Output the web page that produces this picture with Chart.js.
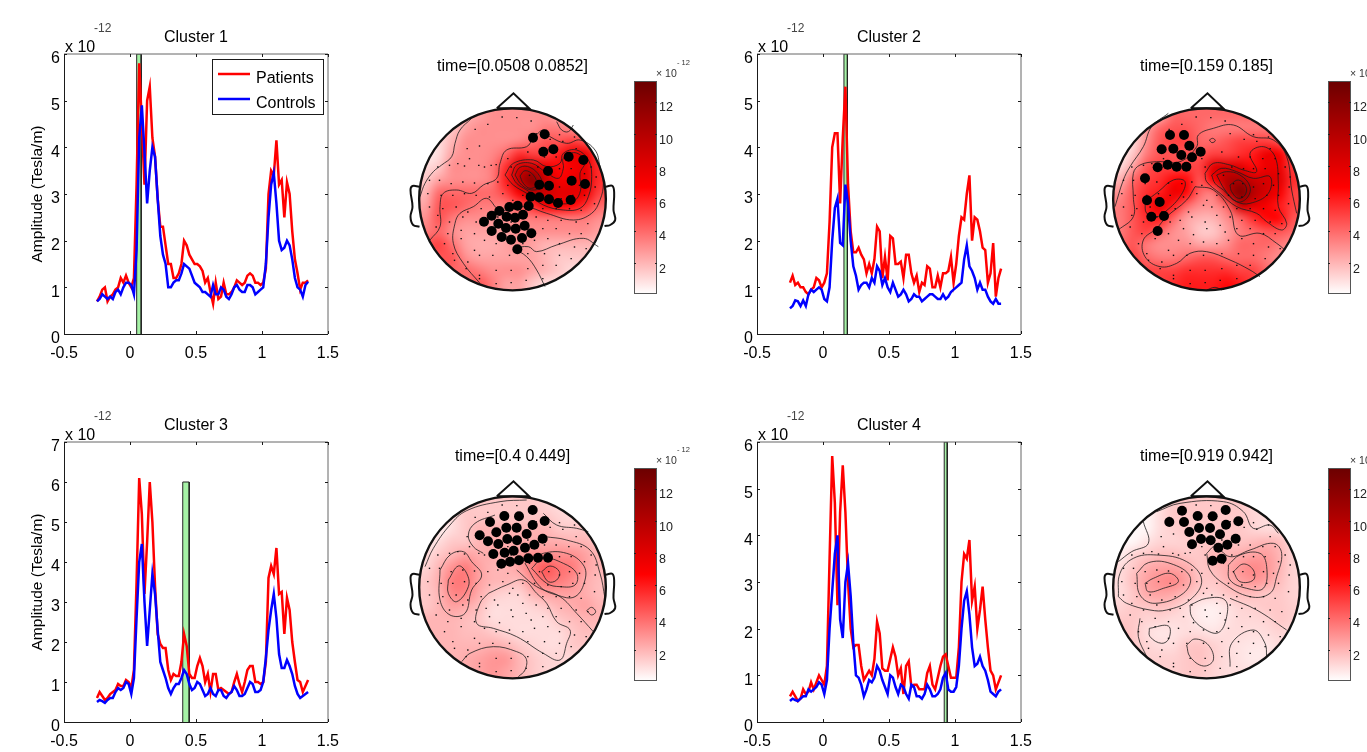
<!DOCTYPE html>
<html>
<head>
<meta charset="utf-8">
<title>Clusters</title>
<script src="https://cdn.jsdelivr.net/npm/chart.js@4/dist/chart.umd.min.js"></script>
<style>
html, body { margin: 0; padding: 0; background: #fff; width: 1367px; height: 752px; overflow: hidden; }
canvas { position: absolute; }
</style>
</head>
<body>
<script>
// time axis shared by all four clusters (seconds)
var timePts = [-0.25,-0.23,-0.21,-0.19,-0.17,-0.15,-0.13,-0.11,-0.09,-0.07,
  -0.05,-0.03,-0.01,0.01,0.03,0.05,0.07,0.09,0.11,0.13,
  0.15,0.17,0.19,0.21,0.23,0.25,0.27,0.29,0.31,0.33,
  0.35,0.37,0.39,0.41,0.43,0.45,0.47,0.49,0.51,0.53,
  0.55,0.57,0.59,0.61,0.63,0.65,0.67,0.69,0.71,0.73,
  0.75,0.77,0.79,0.81,0.83,0.85,0.87,0.89,0.91,0.93,
  0.95,0.97,0.99,1.01,1.03,1.05,1.07,1.09,1.11,1.13,
  1.15,1.17,1.19,1.21,1.23,1.25,1.27,1.29,1.31,1.33,1.35];

var patients1 = [.7,.8,.95,1,.7,.8,.85,.95,1,1.2,
  1.1,1.25,1.1,1,1.2,3.2,5.8,4.5,3.2,5,
  5.3,4.2,3.8,2.9,2.3,2.3,1.9,1.5,1.5,1.2,
  1.2,1.3,1.5,2,1.9,1.7,1.6,1.5,1.5,1.45,
  1.35,1.1,1.2,.9,.65,1.1,.75,.8,1.1,.85,
  .85,.9,1,1.15,1.1,1.05,1.1,1.25,1.3,1.25,
  1.1,1.1,1.05,1.1,1.4,3,3.5,3.4,4.15,3.2,
  3.3,2.5,3.25,3,2.2,1.6,1.3,.95,1.1,1.1,1.15];
var controls1 = [.7,.75,.85,.8,.75,.8,.75,.9,.95,.85,
  1,1.1,1.1,1.05,.85,1.8,4.2,4.9,3.9,2.8,
  3.5,4,3.8,2.9,2.1,1.7,1.5,1,1,1.1,
  1.15,1.15,1.3,1.5,1.45,1.4,1.25,1.1,1.05,1,
  .9,.9,.85,.8,1.05,.85,.85,1,.95,.8,
  .75,.85,1,1.05,.95,.9,.9,1.05,1.05,1,
  .85,.9,.95,1,1.5,2.5,3.2,3.45,2.8,2,
  1.8,1.85,2,1.9,1.6,1.2,1,.95,.8,1.05,1.12];

var patients2 = [1.1,1.25,1.05,1.1,1,1,.9,.85,.95,1,
  1.2,1.15,1,1.1,1.3,2.4,4,4.3,4.3,2.8,
  4.2,5.3,3.2,2.2,1.75,1.75,1.85,1.7,1.6,1.3,
  1.5,1.3,1.6,2.3,2.2,1.2,1.65,1.15,2.1,2.05,
  1.5,1.5,1.55,1.2,1.7,1.7,1.3,1.1,1.25,.9,
  1.1,1.05,1.45,1.4,1,1,1.25,1,1.3,1.3,
  1.35,1.65,1.1,1.5,2.1,2.5,2.45,3,3.4,2,
  2.5,2.45,2.2,1.85,1.8,1.1,1.3,1.95,.8,1.2,1.4];
var controls2 = [.55,.6,.72,.7,.6,.72,.6,.85,.95,.9,
  .95,1,.95,.75,.7,1,2,2.7,2.9,1.95,
  1.9,3.2,2.8,2,1.45,1.25,.95,1.05,1.1,1.1,
  1,1.2,1.1,1.45,1.35,1.05,1.2,1,.9,1.1,
  .95,.8,.85,.95,.85,.7,.75,.85,.8,.8,
  .7,.75,.8,.85,.85,.8,.75,.75,.85,.75,
  .8,.9,.95,1,1.05,1.1,1.6,1.9,1.45,1.35,
  1.2,.95,1.1,.95,.95,.8,.7,.65,.75,.65,.65];

var patients3 = [.6,.75,.65,.55,.6,.7,.75,.8,.95,.9,
  .9,1.05,1,.85,1.3,3.5,6.1,5.2,3.2,4.5,
  6,5,3.4,2.2,1.95,1.85,1.85,1.3,1.05,1.2,
  1.15,1.15,1.5,2.2,1.9,1.2,1.1,1.1,1.4,1.6,
  1.4,1,1.2,.75,1.2,1.2,.8,.85,.8,.75,
  .7,.75,1,1.2,.95,.75,1,1.3,1.4,1.4,
  1,1,.95,1,1.5,3.6,3.9,3.7,4.35,3.2,
  3.25,2.2,3.1,2.8,2,1.5,1.05,1,.75,.9,1.05];
var controls3 = [.5,.55,.52,.48,.55,.6,.6,.75,.85,.8,
  .85,1,.95,.7,1.1,2.6,4,4.45,3,1.9,
  2.8,3.7,3.2,2.3,1.5,1.3,1.1,.85,.7,.85,
  .95,.95,1.1,1.3,1.2,.95,.8,.85,1,.95,
  .8,.65,.7,.85,.7,.65,.8,.8,.65,.6,
  .7,.75,.9,.8,.65,.65,.7,.85,1,.95,
  .75,.75,.8,1,1.6,2.3,2.8,3.2,2.6,1.7,
  1.35,1.35,1.55,1.4,1.2,.9,.7,.6,.65,.7,.75];

var patients4 = [.55,.65,.55,.45,.5,.7,.6,.65,.85,.7,
  .85,1,.9,.8,1.2,3.5,5.7,4.7,2.5,4.5,
  5.5,4.5,3,2,1.6,1.65,1.65,1.2,.9,1,
  1.1,1,1.35,2.15,1.9,1.15,1.1,1.1,1.35,1.6,
  1.4,1,1.15,.6,1.2,1.3,.75,.8,.8,.7,
  .7,.7,1.05,1.2,.8,.7,.95,1.2,1.4,1.45,
  1.2,.95,.95,.95,1.6,3,3.6,3.5,3.9,2.6,
  2.9,2,2.4,2.9,2.2,1.6,1.1,1,.7,.85,1];
var controls4 = [.45,.5,.47,.45,.5,.55,.55,.7,.65,.7,
  .75,.85,.8,.6,.9,2,2.8,3.6,4,2.2,
  1.8,3,3.4,2.7,1.7,1,.95,.8,.55,.7,
  .9,.85,.95,1.2,1.1,.9,.75,.6,1,.95,
  .75,.6,.8,.75,.6,.5,.8,.75,.55,.55,
  .5,.6,.8,.7,.55,.55,.6,.7,.95,1.05,
  .7,.65,.65,.75,1.2,2,2.6,2.8,2.3,1.6,
  1.2,1.25,1.4,1.2,1.1,.9,.65,.6,.55,.65,.7];

var xTicks = [-0.5, 0, 0.5, 1, 1.5];
var yTicks6 = [0, 1, 2, 3, 4, 5, 6];
var yTicks7 = [0, 1, 2, 3, 4, 5, 6, 7];
var cbarTicks = [2, 4, 6, 8, 10, 12];
var cbarRange = [0.08, 13.28];
// colour map of the scalp maps: value, r, g, b
var cmapStops = [[0.08,255,255,255],[6.7,255,0,0],[13.28,107,0,0]];

// scalp field, 14 x 14 cells, row by row from the nose down
var heat1 = [1,1,1,2,2.5,3,3,3,3,3,2.5,2,2,2,
  1,1,1.5,2.5,3,3,3,3,3,3.5,3.5,3,2.5,2.5,
  .5,1,2,3,3,3,3,3.2,3.8,4.5,4.5,5,4.5,4,
  .5,1,2.5,3,3,3.2,4,5.5,5,5,6,7.5,7.5,5,
  1,1.5,3,3,3,3.5,5.5,8.5,9,7.5,6.5,7,7.5,5.5,
  1.5,2.5,3,3,3,3.5,6,9.5,12,9,7,7.5,8,5.5,
  2,4,4,4,4,4,5,7,9.5,9,8,8,7.5,5,
  2.5,4.5,4.5,4,3.5,3.5,3.5,4.5,5.5,7,7,6.5,5.5,4,
  3,4.5,3.5,3,3,2.8,3,3.2,3.5,3.5,3.5,3.5,3.5,3,
  3.5,4,3,2.5,2.5,2.5,2.5,3,3,3,3,3,3,2.5,
  4.5,5,3.8,2.5,2.2,2.2,2.5,3,2.5,2,2,2,2,2,
  5,4.5,4.5,3,2.5,2.5,2.5,2.5,2.5,2,1.5,1.5,1.5,1.5,
  5,5,4,4,3.5,3,3,3,2.5,2,1.5,1,1,1,
  5,5,4,3.5,4.5,3.5,2.5,2.5,1.5,1,1,1,1,1];
var heat2 = [1,1,1,2,4,4,4,4,4,4,4,3,2,2,
  1,1,2.5,4,4.5,4.5,4,3.5,3.5,3.5,3.5,3.5,3,2,
  .5,1,3,4.5,5,5,4,4,4.5,5,5,5,4.5,3,
  .5,1.5,3.5,4.5,4.5,4.5,4.5,5,5,5.5,6,7.5,7,4.5,
  1,2.5,4.5,5,5,5,5,8,8.5,8,6.5,7.5,7.5,5,
  2,4,5,5.5,6.5,6.5,4.5,7,10,10.5,9,8.5,8,5.5,
  3,4.5,5.5,6,7.5,6.5,4,3.5,9,12.5,10,8.5,7,5,
  3.5,4.5,6,7.5,6,4,3,3,4,9,8,7,6,5,
  3.5,4.5,5.5,6,4,2.5,2,2,3,4,5.5,6.5,6.5,4.5,
  3.5,4.5,5,4,3,2.5,1.5,1.5,2.5,3.5,4,4.5,4.5,4,
  4,4.5,3.5,3,3,3,2.5,2.5,3,4,4,4,3.5,3,
  4,5,4,3.5,3.5,4,4.5,4.5,4,4,4,3.5,3,3,
  4,5,5,5,5,5.5,5.5,5.5,5.5,5,5,4,3,3,
  4,5,5,5,5.5,6,6,6,6.5,6,5,4,3,3];
var heat3 = [.5,.5,1,1.5,1.5,1.5,1.5,1.5,1.5,1.2,1,1,1,1,
  .5,.5,1,1.5,1.5,1.5,1.5,1.5,1.5,1.5,1.2,1,1,1,
  .5,.5,1,1.5,2,2,2,2,2,2,1.5,1.5,1.5,1,
  .5,1,1.5,1.5,2,2.2,2.2,2.2,2.2,2.2,2.2,2,2,1.5,
  1,1.5,2,2.5,2.2,2.2,2.2,2.5,3,3,3,3,2.5,2,
  1.2,2,3,3.5,2.5,2,2,2.5,3.5,4.5,3.8,3.5,2.5,2,
  1.5,2.2,3.5,3.5,2.5,2,2,1.8,3,3.8,3.5,3,2.2,1.8,
  1.5,2,3.2,3.2,2.2,1.5,1.2,1.2,2,2.5,2.5,2.5,2.2,1.8,
  1.5,2,2.5,2.2,1.8,1,1,1,1.2,1.5,2,2.2,2.5,2,
  2,2,2,1.8,1.5,1,1,1,1,1,1.5,1.8,2,2,
  2,2,2,1.8,1.8,1.5,1.2,1,1,1,1,1.5,1.8,1.5,
  2,2,2,2,2,2.2,2,1.5,1.2,1,1,1.5,1.5,1,
  2,2,2,2.2,2.5,2.8,2.8,2,1.5,1.2,1.2,1,1,1,
  2,2,2,2.2,2.5,2.8,2.5,2,1.5,1.2,1,1,1,1];
var heat4 = [.5,.5,.5,.8,1.5,1.5,1.5,1.5,1.5,1.5,1,1,1,1,
  .5,.5,.3,1,1.5,1.5,1.5,1.5,1.5,1.5,1.2,1,1,1,
  .3,.3,.3,1,1.3,1.5,1.5,1.5,1.5,1.5,1.2,1,1,.8,
  .3,.3,.8,1.2,1.2,1.3,1.5,1.5,1.6,1.6,1.8,2,1.8,1,
  .5,1.2,1.5,1.8,1.8,1.5,1.5,2,2,2.2,2.5,2.6,2,1.2,
  1,1.5,2.2,2.5,2.5,2.2,1.5,1.8,2.2,2.8,3.2,2.8,2,1.2,
  1,1.8,2.5,3,3.2,2.5,1.6,1.5,2,2.5,2.8,2.5,1.8,1.2,
  1,1.5,2.3,2.5,2.3,1.8,1.3,1.2,1.5,1.8,1.8,1.5,1.5,1.2,
  1.2,1.5,1.5,1.7,1.5,1,.6,.5,.8,1.2,1.3,1.5,1.5,1.3,
  1.5,1.5,1.2,1.2,1,1,.6,.5,.8,1.1,1.1,1.2,1.5,1.3,
  1.8,1.5,1,.7,.8,1,1,.8,1,1,.9,1,1.2,1,
  2,1.5,1.2,1,1,1.5,1.6,1.3,1,.8,.7,.7,1,1,
  2,1.5,1.3,1.3,1.3,1.5,1.7,1.3,1,.8,.6,.7,1,1,
  2,1.5,1.3,1.3,1.3,1.5,1.5,1.2,1,.9,.9,1,1,1];

// contour lines, in sensor layout units (3 units = 1 px)
var openLines1 = [
  [[215,205],[180,240],[165,280],[155,320],[125,345],[100,365],[75,400],[60,440]],
  [[90,570],[120,530],[120,470],[130,430],[170,420],[215,430],[250,405],[290,385],[300,340],[320,300],[380,290],[400,265],[430,240],[450,260],[500,280],[540,270],[585,300],[600,350],[610,400],[600,450],[575,490],[520,510],[440,490],[375,470],[300,480],[260,445],[220,470],[180,490],[165,520],[160,580],[190,640],[240,700]],
  [[340,595],[380,620],[410,660],[435,710]],
  [[340,595],[385,590],[410,605],[470,585],[550,565],[595,590]],
  [[470,215],[485,240],[505,245],[520,225]]];
var closedLines1 = [
  [[315,375],[340,340],[400,330],[440,350],[480,340],[490,310],[530,300],[565,330],[575,380],[565,440],[540,475],[490,480],[430,465],[380,430],[340,405]],
  [[335,375],[350,345],[395,340],[435,365],[475,385],[490,355],[490,325],[525,308],[555,335],[540,370],[542,420],[520,455],[470,460],[420,445],[380,420],[350,400]],
  [[345,375],[360,352],[390,352],[420,380],[425,410],[395,420],[365,405]],
  [[360,378],[375,362],[400,375],[410,405],[390,415],[370,400]]];
var openLines2 = [
  [[235,190],[185,230],[160,290],[120,350],[100,390],[75,470]],
  [[85,540],[130,500],[130,440],[130,370],[150,345],[200,335],[270,335],[320,290],[325,255],[370,235],[430,225],[490,260],[550,270],[590,320],[605,420],[620,490]],
  [[315,410],[290,450],[230,500],[200,535],[160,570],[165,620],[210,650],[260,640],[300,610],[350,605],[420,630],[480,660],[510,680]],
  [[315,410],[370,420],[420,480],[445,555],[510,550],[560,580],[585,600]],
  [[350,720],[375,712],[395,720]]];
var closedLines2 = [
  [[345,370],[370,340],[420,345],[460,360],[500,365],[480,310],[520,290],[555,320],[565,400],[565,470],[590,520],[575,540],[530,515],[500,490],[440,470],[390,430],[350,395]],
  [[365,375],[395,355],[440,365],[490,385],[540,380],[535,430],[480,460],[440,455],[400,420],[375,400]],
  [[380,375],[410,365],[450,375],[480,410],[470,445],[440,455],[405,420]],
  [[420,405],[445,390],[468,410],[465,435],[445,445],[425,425]],
  [[165,455],[205,425],[250,390],[285,395],[270,440],[220,490],[200,500],[170,490]],
  [[358,270],[368,265],[376,272],[366,278]]];
var openLines3 = [
  [[380,180],[300,185],[200,212],[150,255],[100,325],[75,380]],
  [[285,225],[225,250],[205,285],[220,320],[250,340]],
  [[430,220],[470,255],[530,265],[565,275]],
  [[435,290],[500,300],[570,330],[600,400],[615,475]],
  [[185,665],[210,640],[280,620],[350,635],[378,655],[375,690],[355,710]],
  [[350,390],[410,440],[480,470],[530,520],[580,575]]];
var closedLines3 = [
  [[120,390],[150,345],[190,335],[215,365],[245,405],[215,450],[195,520],[150,525],[120,480]],
  [[145,420],[175,378],[200,400],[205,440],[170,485],[145,460]],
  [[375,370],[430,340],[500,340],[550,375],[555,420],[525,470],[470,465],[420,440]],
  [[395,385],[430,355],[490,370],[530,400],[525,435],[480,440],[440,430]],
  [[425,395],[450,378],[478,395],[470,420],[445,425]],
  [[265,460],[320,435],[370,420],[410,460],[440,490],[470,545],[510,570],[500,610],[480,660],[430,640],[350,590],[280,565],[230,550],[240,490]],
  [[560,512],[575,502],[587,515],[575,525]]];
var openLines4 = [
  [[160,245],[175,310],[125,335],[85,365]],
  [[200,215],[270,190],[400,185],[460,215],[490,265],[540,255],[565,280]],
  [[420,475],[500,510],[590,570]],
  [[150,535],[145,590],[170,650]],
  [[420,680],[425,610],[490,570],[525,610],[530,650]]];
var closedLines4 = [
  [[85,470],[90,400],[130,355],[200,345],[290,365],[335,420],[300,480],[230,510],[180,510],[110,490]],
  [[140,400],[175,368],[240,370],[300,410],[280,460],[195,490],[150,465]],
  [[165,430],[190,415],[240,400],[265,425],[220,445],[175,455]],
  [[350,340],[375,320],[420,350],[480,330],[550,310],[575,340],[560,410],[540,460],[480,470],[400,430],[360,390]],
  [[415,375],[450,345],[510,340],[530,380],[520,445],[470,445],[420,420]],
  [[430,395],[460,372],[490,390],[490,420],[450,425]],
  [[300,495],[350,475],[405,480],[410,530],[385,578],[340,565],[305,530]],
  [[178,565],[235,558],[237,595],[215,610],[180,590]],
  [[290,615],[315,597],[355,615],[370,660],[340,678],[300,650]]];

// sensors of each significant cluster
var clusterDots1 = [[399,263],[434,253],[430,305],[460,298],[506,320],[550,330],[444,363],[515,392],[555,402],[418,404],[447,407],[392,440],[418,442],[447,448],[474,459],[512,450],[386,468],[353,467],[328,471],[298,483],[275,497],[252,515],[320,500],[345,503],[369,494],[295,521],[318,534],[347,536],[374,527],[275,543],[305,561],[333,569],[366,564],[394,550],[352,598]];
var clusterDots2 = [[240,255],[282,255],[298,287],[215,298],[250,296],[274,315],[306,322],[332,305],[203,352],[233,344],[260,350],[289,350],[165,385],[171,451],[209,456],[184,500],[222,498],[203,543]];
var clusterDots3 = [[398,210],[313,228],[357,229],[270,246],[434,243],[398,255],[319,263],[350,263],[289,277],[239,286],[264,304],[380,282],[322,297],[351,301],[295,312],[428,296],[403,314],[375,323],[341,332],[314,338],[280,342],[444,353],[414,353],[385,355],[357,361],[330,365],[304,371]];
var clusterDots4 = [[276,212],[407,210],[323,228],[368,229],[238,246],[282,246],[445,244],[408,254],[327,264],[360,264],[298,276],[390,283],[437,296],[333,297],[362,301],[412,314],[306,313],[385,323],[395,356],[368,362]];

// whole sensor array, read on map 4 (head centre 349,442)
var sensorDots = [[318,195],[362,197],[405,207],[237,232],[275,217],[490,248],[535,255],[213,290],[250,282],[420,245],[462,262],[500,268],[540,290],
  [185,335],[220,320],[248,340],[285,340],[335,320],[395,300],[445,315],[480,315],[518,320],[555,320],[585,345],
  [125,345],[160,340],[205,342],[265,345],[300,338],[345,345],[425,345],[460,350],[490,350],[525,350],[565,365],[600,375],
  [100,385],[130,385],[165,395],[200,390],[235,393],[275,395],[305,390],[335,400],[400,370],[430,395],[458,395],[490,405],[520,395],[550,400],[597,405],
  [95,425],[135,430],[170,430],[205,425],[240,430],[280,435],[320,425],[350,445],[380,430],[415,430],[455,435],[495,440],[530,430],[565,430],[595,455],
  [100,465],[140,470],[180,465],[215,480],[255,470],[295,480],[340,460],[365,465],[400,465],[440,470],[480,470],[520,470],[555,475],
  [125,490],[160,510],[200,495],[240,510],[270,505],[305,495],[345,510],[380,490],[420,495],[455,505],[495,505],[540,510],[575,515],
  [120,525],[155,545],[195,535],[235,545],[280,530],[310,548],[350,530],[390,520],[405,540],[440,530],[480,530],[520,545],[555,545],
  [145,575],[170,605],[195,560],[235,595],[265,565],[300,575],[340,570],[380,575],[415,565],[455,560],[490,575],[535,585],[570,590],
  [175,625],[215,630],[250,610],[290,610],[340,610],[395,605],[445,605],[490,610],[525,620],
  [210,650],[250,670],[300,655],[345,655],[395,650],[440,640],[480,640],
  [300,695],[345,692],[390,685],[440,680],[250,680]];

// head outline, relative to the head centre
var noseLine = [[-47,-273],[3,-318],[50,-273],[-47,-273]];
var earLeft = [[-280,-38],[-300,-40],[-306,-28],[-300,22],[-306,52],[-298,77],[-279,82]];
var earRight = [[280,-38],[300,-40],[305,-18],[303,32],[308,62],[293,77],[276,80]];

var FONT = 'Liberation Sans';
Chart.defaults.font.family = FONT;
Chart.defaults.color = '#000';
Chart.defaults.animation = false;

function colorOf(v) {
  for (var i = 1; i < cmapStops.length; i++) {
    if (v <= cmapStops[i][0] || i === cmapStops.length - 1) {
      var a = cmapStops[i - 1], b = cmapStops[i];
      var f = Math.max(0, Math.min(1, (v - a[0]) / (b[0] - a[0])));
      return [a[1] + (b[1] - a[1]) * f, a[2] + (b[2] - a[2]) * f, a[3] + (b[3] - a[3]) * f];
    }
  }
}

function addCanvas(left, top, w, h) {
  var c = document.createElement('canvas');
  c.width = w; c.height = h;
  c.style.left = left + 'px'; c.style.top = top + 'px';
  c.style.width = w + 'px'; c.style.height = h + 'px';
  document.body.appendChild(c);
  return c;
}

// MATLAB style box with inward ticks on all four sides
var axisBox = {
  id: 'axisBox',
  afterDatasetsDraw: function(chart) {
    var ctx = chart.ctx, a = chart.chartArea, x = chart.scales.x, y = chart.scales.y;
    var l = Math.round(a.left), r = Math.round(a.right), t = Math.round(a.top), b = Math.round(a.bottom);
    ctx.save();
    ctx.lineWidth = 1;
    ctx.strokeStyle = '#666';
    ctx.beginPath();
    ctx.moveTo(l, t); ctx.lineTo(r, t); ctx.lineTo(r, b);
    ctx.stroke();
    ctx.strokeStyle = '#1a1a1a';
    ctx.beginPath();
    ctx.moveTo(l + 0.5, t); ctx.lineTo(l + 0.5, b + 0.5); ctx.lineTo(r, b + 0.5);
    x.ticks.forEach(function(tk, i) {
      var p = Math.round(x.getPixelForTick(i)) + 0.5;
      ctx.moveTo(p, b); ctx.lineTo(p, b - 3);
      ctx.moveTo(p, t); ctx.lineTo(p, t + 3);
    });
    y.ticks.forEach(function(tk, i) {
      var p = Math.round(y.getPixelForTick(i)) + 0.5;
      ctx.moveTo(l, p); ctx.lineTo(l + 3, p);
      ctx.moveTo(r, p); ctx.lineTo(r - 3, p);
    });
    ctx.stroke();
    // exponent above the y axis
    ctx.fillStyle = '#000';
    ctx.textBaseline = 'middle';
    ctx.textAlign = 'left';
    ctx.font = '16px "' + FONT + '"';
    ctx.fillText('x 10', l + 1, t - 6);
    ctx.fillStyle = '#444';
    ctx.font = '12px "' + FONT + '"';
    ctx.fillText('-12', l + 30, t - 25);
    ctx.restore();
  }
};

// legend box of the first panel
var boxLegend = {
  id: 'boxLegend',
  afterDraw: function(chart) {
    var ctx = chart.ctx, a = chart.chartArea;
    var left = a.left + 148, top = a.top + 5;
    ctx.save();
    ctx.fillStyle = '#fff';
    ctx.strokeStyle = '#1a1a1a';
    ctx.lineWidth = 1;
    ctx.fillRect(left, top, 111, 55);
    ctx.strokeRect(left + 0.5, top + 0.5, 111, 55);
    chart.data.datasets.filter(function(d) { return d.inLegend; }).forEach(function(d, i) {
      var y = top + 15 + i * 25;
      ctx.strokeStyle = d.borderColor;
      ctx.lineWidth = 2.5;
      ctx.beginPath();
      ctx.moveTo(left + 6, y); ctx.lineTo(left + 38, y);
      ctx.stroke();
      ctx.fillStyle = '#000';
      ctx.font = '16px "' + FONT + '"';
      ctx.textBaseline = 'middle';
      ctx.fillText(d.label, left + 44, y + 5);
    });
    ctx.restore();
  }
};

function makePanel(o) {
  var hasYTitle = !!o.yTitle;
  var bottom = o.xTitle ? 47 : 41;
  var canvas = addCanvas(o.left - 64, o.top - 54, 64 + 265 + 20, 54 + 280 + bottom);
  var yMaxBand = o.bandTop;
  var datasets = [
    { label: 'Controls', inLegend: false, data: timePts.map(function(t, i) { return { x: t, y: o.controls[i] }; }),
      borderColor: '#0000ff', borderWidth: 2.5, pointRadius: 0, showLine: true, order: 1 },
    { label: 'Patients', inLegend: false, data: timePts.map(function(t, i) { return { x: t, y: o.patients[i] }; }),
      borderColor: '#ff0000', borderWidth: 2.5, pointRadius: 0, showLine: true, order: 2 },
    { label: 'window', data: [{ x: o.band[0], y: 0 }, { x: o.band[0], y: yMaxBand }, { x: o.band[1], y: yMaxBand }, { x: o.band[1], y: 0 }],
      borderColor: '#222', backgroundColor: '#a6f2a6', borderWidth: 1, pointRadius: 0, showLine: true, fill: 'origin', order: 3 }
  ];
  if (o.legend) {
    datasets[0].inLegend = true;
    datasets[1].inLegend = true;
    datasets = [datasets[1], datasets[0], datasets[2]];
  }
  var plugins = [axisBox];
  if (o.legend) plugins.push(boxLegend);
  return new Chart(canvas.getContext('2d'), {
    type: 'scatter',
    data: { datasets: datasets },
    options: {
      responsive: false,
      animation: false,
      layout: { autoPadding: false, padding: { right: 20 } },
      plugins: {
        legend: { display: false },
        tooltip: { enabled: false },
        title: { display: true, fullSize: false, text: o.title, color: '#000', font: { size: 16, weight: 'normal', lineHeight: 1.2 },
          padding: { top: 28, bottom: 54 - 28 - 19.2 } }
      },
      scales: {
        x: {
          type: 'linear', min: -0.5, max: 1.5,
          grid: { display: false, drawTicks: false }, border: { display: false },
          afterBuildTicks: function(s) { s.ticks = xTicks.map(function(v) { return { value: v }; }); },
          afterFit: function(s) { s.height = bottom; },
          title: { display: !!o.xTitle, text: o.xTitle || '', color: '#777', font: { size: 16 }, padding: 0 },
          ticks: { color: '#000', font: { size: 16 }, padding: 10, maxRotation: 0, autoSkip: false,
            callback: function(v) { return String(v); } }
        },
        y: {
          type: 'linear', min: 0, max: o.yTicks[o.yTicks.length - 1],
          grid: { display: false, drawTicks: false }, border: { display: false },
          afterBuildTicks: function(s) { s.ticks = o.yTicks.map(function(v) { return { value: v }; }); },
          afterFit: function(s) { s.width = 64; },
          title: { display: hasYTitle, text: o.yTitle || '', color: '#000', font: { size: 15.5 }, padding: { top: 28, bottom: 0 } },
          ticks: { color: '#000', font: { size: 16 }, padding: 4, labelOffset: 5, autoSkip: false,
            callback: function(v) { return String(v); } }
        }
      }
    },
    plugins: plugins
  });
}

// scalp field and head outline
var headDraw = {
  id: 'headDraw',
  beforeDatasetsDraw: function(chart) {
    var ds = chart.data.datasets[chart.data.datasets.length - 1];
    var x = chart.scales.x, y = chart.scales.y, head = ds.head;
    var off = document.createElement('canvas');
    off.width = 14; off.height = 14;
    var octx = off.getContext('2d');
    var img = octx.createImageData(14, 14);
    ds.data.forEach(function(c, i) {
      var col = colorOf(c.v);
      img.data[i * 4] = col[0]; img.data[i * 4 + 1] = col[1]; img.data[i * 4 + 2] = col[2]; img.data[i * 4 + 3] = 255;
    });
    octx.putImageData(img, 0, 0);
    var ctx = chart.ctx;
    var px = x.getPixelForValue(head.cx), py = y.getPixelForValue(head.cy);
    var rx = x.getPixelForValue(head.cx + head.rx) - px, ry = y.getPixelForValue(head.cy + head.ry) - py;
    ctx.save();
    ctx.beginPath();
    ctx.ellipse(px, py, rx, ry, 0, 0, Math.PI * 2);
    ctx.clip();
    ctx.imageSmoothingEnabled = true;
    ctx.imageSmoothingQuality = 'high';
    var x0 = x.getPixelForValue(head.cx - 280), x1 = x.getPixelForValue(head.cx + 280);
    var y0 = y.getPixelForValue(head.cy - 273), y1 = y.getPixelForValue(head.cy + 273);
    ctx.drawImage(off, x0, y0, x1 - x0, y1 - y0);
    ctx.restore();
  },
  afterDatasetsDraw: function(chart) {
    var ds = chart.data.datasets[chart.data.datasets.length - 1];
    var x = chart.scales.x, y = chart.scales.y, head = ds.head, ctx = chart.ctx;
    var px = x.getPixelForValue(head.cx), py = y.getPixelForValue(head.cy);
    var rx = x.getPixelForValue(head.cx + head.rx) - px, ry = y.getPixelForValue(head.cy + head.ry) - py;
    ctx.save();
    ctx.strokeStyle = '#111';
    ctx.lineWidth = 2.4;
    ctx.beginPath();
    ctx.ellipse(px, py, rx, ry, 0, 0, Math.PI * 2);
    ctx.stroke();
    ctx.restore();
  }
};

function toPts(list) {
  return list.map(function(p) { return { x: p[0], y: p[1] }; });
}

function makeHead(o) {
  // head centre in page pixels gives the canvas, the map keeps its own layout units
  var canvas = addCanvas(o.pageX - 112.5, o.pageTop, 225, 270);
  var datasets = [];
  function shifted(list) {
    return list.map(function(p) { return [p[0] + o.cx, p[1] + o.cy]; });
  }
  datasets.push({ data: toPts(shifted(noseLine)), borderColor: '#111', borderWidth: 2, pointRadius: 0, showLine: true, order: 1 });
  [earLeft, earRight].forEach(function(l) {
    datasets.push({ data: toPts(shifted(l)), borderColor: '#111', borderWidth: 2, pointRadius: 0, showLine: true, tension: 0.4, order: 1 });
  });
  datasets.push({ data: toPts(o.dots), backgroundColor: '#000', borderWidth: 0, pointRadius: 5, order: 2 });
  datasets.push({ data: toPts(sensorDots.map(function(p) { return [p[0] - 349 + o.cx, p[1] - 442 + o.cy]; })),
    backgroundColor: '#111', borderWidth: 0, pointRadius: 1, pointStyle: 'rect', order: 3 });
  o.open.forEach(function(l) {
    datasets.push({ data: toPts(l), borderColor: 'rgba(30,30,30,0.8)', borderWidth: 1, pointRadius: 0, showLine: true, tension: 0.4, order: 4 });
  });
  o.closed.forEach(function(l) {
    datasets.push({ data: toPts(l.concat([l[0]])), borderColor: 'rgba(30,30,30,0.8)', borderWidth: 1, pointRadius: 0, showLine: true, tension: 0.4, order: 4 });
  });
  // field cells stay as data, drawn by the headDraw plugin
  var cells = o.heat.map(function(v, i) {
    return { x: o.cx - 260 + (i % 14) * 40, y: o.cy - 253.5 + Math.floor(i / 14) * 39, v: v };
  });
  datasets.push({ data: cells, pointRadius: 0, showLine: false, order: 9, head: { cx: o.cx, cy: o.cy, rx: 280, ry: 273 } });
  return new Chart(canvas.getContext('2d'), {
    type: 'scatter',
    data: { datasets: datasets },
    options: {
      responsive: false,
      animation: false,
      layout: { autoPadding: false, padding: 0 },
      plugins: {
        legend: { display: false },
        tooltip: { enabled: false },
        title: { display: true, text: o.title, color: '#000', font: { size: 16, weight: 'normal', lineHeight: 1.2 },
          padding: { top: 7, bottom: 35 - 7 - 19.2 } }
      },
      scales: {
        x: { type: 'linear', display: false, min: o.cx - 337.5, max: o.cx + 337.5 },
        y: { type: 'linear', display: false, reverse: true, min: 105, max: 810 }
      }
    },
    plugins: [headDraw]
  });
}

var cbarText = {
  id: 'cbarText',
  afterDraw: function(chart) {
    var ctx = chart.ctx, a = chart.chartArea, y = chart.scales.y;
    ctx.save();
    ctx.strokeStyle = '#555';
    ctx.lineWidth = 1;
    ctx.strokeRect(Math.round(a.left) + 0.5, Math.round(a.top) + 0.5, Math.round(a.right - a.left) - 1, Math.round(a.bottom - a.top) - 1);
    ctx.strokeStyle = '#222';
    ctx.beginPath();
    y.ticks.forEach(function(tk, i) {
      var p = Math.round(y.getPixelForTick(i)) + 0.5;
      ctx.moveTo(a.right, p); ctx.lineTo(a.right - 2, p);
      ctx.moveTo(a.left, p); ctx.lineTo(a.left + 2, p);
    });
    ctx.stroke();
    ctx.fillStyle = '#333';
    ctx.textAlign = 'left';
    ctx.textBaseline = 'middle';
    ctx.font = '10.5px "' + FONT + '"';
    ctx.fillText('\u00d7 10', a.right - 1, a.top - 7);
    ctx.font = '7.5px "' + FONT + '"';
    ctx.fillText('- 12', a.right + 20, a.top - 18);
    ctx.restore();
  }
};

function makeCbar(left, barTop) {
  var canvas = addCanvas(left, barTop - 30, 80, 30 + 227 + 3);
  return new Chart(canvas.getContext('2d'), {
    type: 'bar',
    data: {
      labels: ['level'],
      datasets: [{
        data: [cbarRange],
        borderWidth: 0,
        backgroundColor: function(c) {
          var a = c.chart.chartArea;
          if (!a) return '#f00';
          var g = c.chart.ctx.createLinearGradient(0, a.bottom, 0, a.top);
          cmapStops.forEach(function(s) {
            var f = (s[0] - cbarRange[0]) / (cbarRange[1] - cbarRange[0]);
            g.addColorStop(f, 'rgb(' + s[1] + ',' + s[2] + ',' + s[3] + ')');
          });
          return g;
        },
        barPercentage: 1,
        categoryPercentage: 1
      }]
    },
    options: {
      responsive: false,
      animation: false,
      layout: { autoPadding: false, padding: { top: 30, bottom: 3 } },
      plugins: { legend: { display: false }, tooltip: { enabled: false } },
      scales: {
        x: { display: false },
        y: {
          position: 'right', min: cbarRange[0], max: cbarRange[1],
          grid: { display: false, drawTicks: false }, border: { display: false },
          afterBuildTicks: function(s) { s.ticks = cbarTicks.map(function(v) { return { value: v }; }); },
          afterFit: function(s) { s.width = 57; },
          ticks: { color: '#222', font: { size: 12.5 }, padding: 2, autoSkip: false, align: 'start',
            callback: function(v) { return String(v); } }
        }
      }
    },
    plugins: [cbarText]
  });
}

makePanel({ left: 64, top: 54, title: 'Cluster 1', yTitle: 'Amplitude (Tesla/m)', yTicks: yTicks6, patients: patients1, controls: controls1, band: [0.0508, 0.0852], bandTop: 6, legend: true });
makePanel({ left: 757, top: 54, title: 'Cluster 2', yTicks: yTicks6, patients: patients2, controls: controls2, band: [0.159, 0.185], bandTop: 6 });
makePanel({ left: 64, top: 442, title: 'Cluster 3', yTitle: 'Amplitude (Tesla/m)', yTicks: yTicks7, patients: patients3, controls: controls3, band: [0.4, 0.449], bandTop: 6 });
makePanel({ left: 757, top: 442, title: 'Cluster 4', yTicks: yTicks6, patients: patients4, controls: controls4, band: [0.919, 0.942], bandTop: 6, xTitle: 'Time (s)' });

makeHead({ pageX: 512.5, pageTop: 50, cx: 337.5, cy: 448, title: 'time=[0.0508 0.0852]', heat: heat1, dots: clusterDots1, open: openLines1, closed: closedLines1 });
makeHead({ pageX: 1206.5, pageTop: 50, cx: 349.5, cy: 448, title: 'time=[0.159 0.185]', heat: heat2, dots: clusterDots2, open: openLines2, closed: closedLines2 });
makeHead({ pageX: 512.5, pageTop: 440, cx: 337.5, cy: 442, title: 'time=[0.4 0.449]', heat: heat3, dots: clusterDots3, open: openLines3, closed: closedLines3 });
makeHead({ pageX: 1206.5, pageTop: 440, cx: 349.5, cy: 442, title: 'time=[0.919 0.942]', heat: heat4, dots: clusterDots4, open: openLines4, closed: closedLines4 });

makeCbar(634, 81);
makeCbar(1328, 81);
makeCbar(634, 468);
makeCbar(1328, 468);
</script>
</body>
</html>
